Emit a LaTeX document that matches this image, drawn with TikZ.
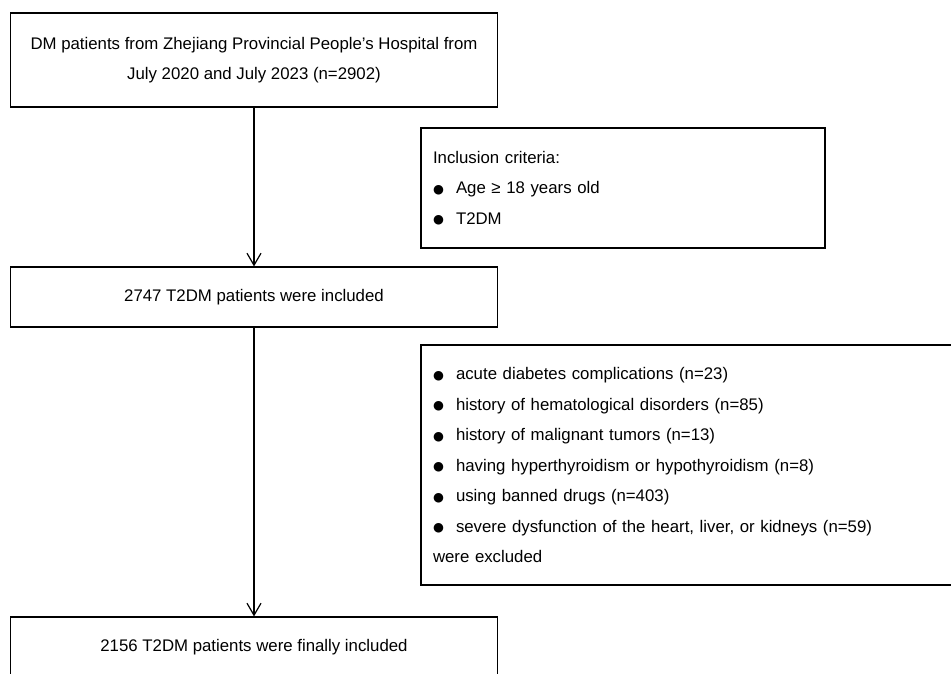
\documentclass[tikz,border=0pt]{standalone}
\usepackage{fontspec}
\setmainfont{Liberation Sans}
\newfontfamily\symfont{DejaVu Sans}
\usetikzlibrary{positioning}
\usetikzlibrary{arrows.meta}
\newcommand{\blt}{\makebox[23pt][l]{\symfont\fontsize{12.5}{12}\selectfont\raisebox{0.5pt}{●}}}

\begin{document}
\begin{tikzpicture}[x=1pt, y=-1pt,
    every node/.style={font=\fontsize{16.8}{30.5}\selectfont, inner sep=0pt},
    flowbox/.style={draw, line width=1.2pt, minimum width=487pt, align=center},
    sidebox/.style={draw, line width=1.2pt, align=left, text width=#1, inner xsep=12pt},
    flowarrow/.style={-{Straight Barb[length=12pt,width=14pt]}, line width=1.2pt}]
            \useasboundingbox (0,0) rectangle (951,673);
            \clip (0,0) rectangle (951,673);
            \node[flowbox, minimum height=94pt] (hospital) at (254,60) {DM patients from Zhejiang Provincial People's Hospital from\\July 2020 and July 2023 (n=2902)};
            \node[sidebox=380pt, minimum height=120pt] (inclusion) at (623,188) {Inclusion criteria:\\ \blt Age ≥ 18 years old\\ \blt T2DM};
            \node[flowbox, minimum height=60pt] (included) at (254,297) {2747 T2DM patients were included};
            \node[sidebox=515pt, minimum height=240pt] (exclusion) at (690.5,465) {\blt acute diabetes complications (n=23)\\ \blt history of hematological disorders (n=85)\\ \blt history of malignant tumors (n=13)\\ \blt having hyperthyroidism or hypothyroidism (n=8)\\ \blt using banned drugs (n=403)\\ \blt severe dysfunction of the heart, liver, or kidneys (n=59)\\ were excluded};
            \node[flowbox, minimum height=60pt] (final) at (254,647) {2156 T2DM patients were finally included};

            \draw[flowarrow] (hospital.south) -- (included.north);
            \draw[flowarrow] (included.south) -- (final.north);
        \end{tikzpicture}
\end{document}
